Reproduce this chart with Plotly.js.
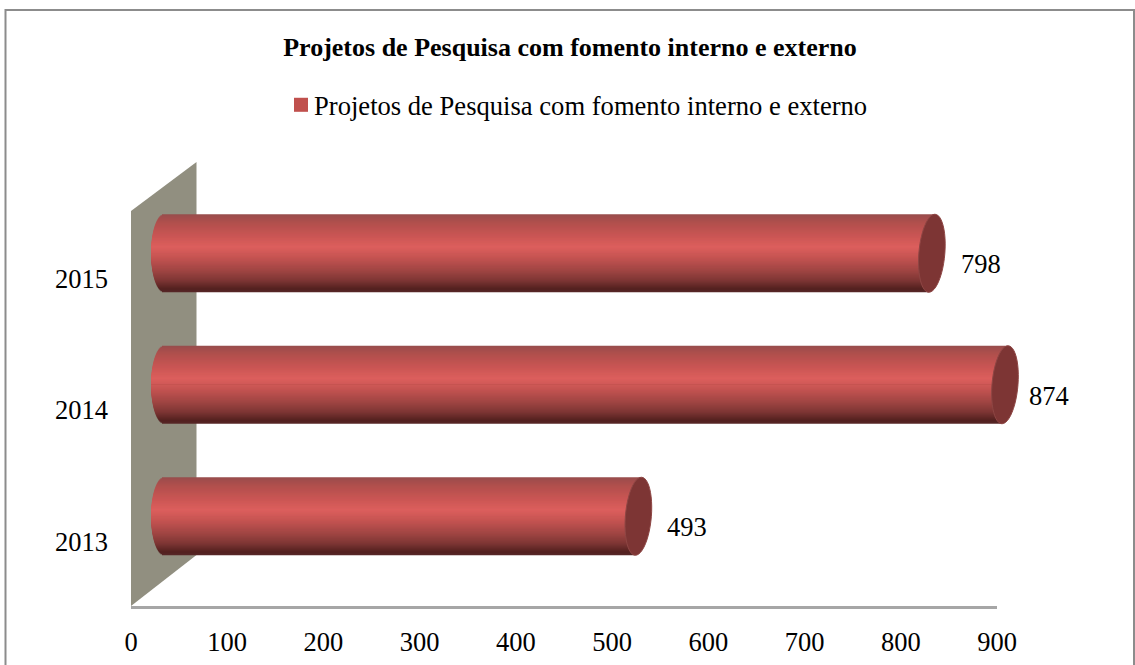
<!DOCTYPE html>
<html>
<head>
<meta charset="utf-8">
<script src="https://cdn.plot.ly/plotly-3.0.1.min.js"></script>
<style>html,body{margin:0;padding:0;background:#fff}#chart{width:1135px;height:665px}</style>
</head>
<body>
<div id="chart"></div>
<script>
const years = ["2013", "2014", "2015"];
const projetos = [493, 874, 798];
const serieNome = "Projetos de Pesquisa com fomento interno e externo";
const tickValues = [0, 100, 200, 300, 400, 500, 600, 700, 800, 900];

const W = 1135, H = 665;
const px = x => x / W;
const py = y => 1 - y / H;

// Plot geometry in pixels
const plotL = 131, plotR = 997, plotT = 211.5, plotB = 606;
const depthX = 33, depthY = 24;
const unit = (plotR - plotL) / 900;
const pos = years.map((_, i) => i);
const barW = 78 / 131.5;
const capRx = 13 / unit, capTilt = 3 / unit;

const stops = [
  [0.00, [150, 78, 76]], [0.05, [165, 78, 76]], [0.14, [182, 80, 78]],
  [0.30, [205, 87, 85]], [0.42, [220, 95, 93]], [0.55, [198, 84, 82]],
  [0.72, [160, 69, 67]], [0.85, [125, 54, 52]], [0.96, [82, 32, 31]], [1.00, [88, 40, 40]]
];
function shade(t) {
  for (let i = 1; i < stops.length; i++) {
    if (t <= stops[i][0]) {
      const [a, ca] = stops[i - 1], [b, cb] = stops[i];
      const f = (t - a) / (b - a);
      return "rgb(" + ca.map((c, k) => Math.round(c + (cb[k] - c) * f)).join(",") + ")";
    }
  }
  return "rgb(88,40,40)";
}

const traces = [];
// Legend-bearing base cylinder
traces.push({
  type: "bar", orientation: "h", name: serieNome, showlegend: true, opacity: 1,
  x: projetos, y: pos, xaxis: "x2", yaxis: "y2", width: barW * 0.9,
  marker: { color: "#c0504d", opacity: 1, line: { width: 0 } }, hoverinfo: "skip"
});
// Nested layers: each row of the shading is painted from its own edge to past the
// centre line, so the layers never leave gaps; this gives the gradient and round back.
const rows = 78;
function addRow(s, fromTop) {
  const mid = (s + 0.5) / rows;
  const v = 1 - 2 * mid;                // +1 at top, -1 at bottom
  const back = capRx * Math.sqrt(Math.max(0, 1 - v * v));
  const yEdge = 1 - 2 * s / rows;       // row's top edge in -1..1
  const yEnd = 1 - 2 * (s + 1) / rows;  // row's bottom edge
  const hi = fromTop ? yEdge : 0;
  const lo = fromTop ? -0.04 : yEnd;
  traces.push({
    type: "bar", orientation: "h", showlegend: false, opacity: 1,
    x: projetos.map(p => p + capTilt * v + back), y: pos,
    base: projetos.map(() => -back),
    xaxis: "x2", yaxis: "y2",
    width: (hi - lo) * barW / 2,
    offset: lo * barW / 2,
    marker: { color: shade(mid), opacity: 1, line: { width: 0 } }, hoverinfo: "skip"
  });
}
for (let s = 0; s < rows / 2; s++) addRow(s, true);
for (let s = rows - 1; s >= rows / 2; s--) addRow(s, false);
// Invisible trace so the primary axes carry the category labels
traces.push({
  type: "scatter", mode: "markers", x: projetos, y: years,
  marker: { opacity: 0, size: 1 }, showlegend: false, hoverinfo: "skip"
});

const shapes = [
  // Chart frame
  { type: "rect", xref: "paper", yref: "paper", x0: px(5.5), x1: px(1134), y0: py(700), y1: py(10),
    line: { color: "#8c8c8c", width: 2 }, fillcolor: "rgba(0,0,0,0)", layer: "below" },
  // 3D side wall
  { type: "path", xref: "paper", yref: "paper", layer: "below", fillcolor: "#918f80", line: { width: 0 },
    path: `M${px(131)},${py(211)} L${px(196.5)},${py(162)} L${px(196.5)},${py(555)} L${px(131)},${py(606)} Z` }
];
// End caps of the cylinders
projetos.forEach((p, i) => {
  const n = 48, h = barW / 2;
  let d = "";
  for (let k = 0; k <= n; k++) {
    const a = 2 * Math.PI * k / n, sv = Math.sin(a);
    d += (k ? " L" : "M") + (p + capRx * Math.cos(a) + capTilt * sv) + "," + (i + h * sv);
  }
  shapes.push({ type: "path", xref: "x2", yref: "y2", layer: "above", path: d + " Z",
    fillcolor: "#7d3534", line: { color: "#8e4644", width: 1 } });
});

const labelShift = [49, 44, 49];
const annotations = projetos.map((p, i) => ({
  xref: "x2", yref: "y2", x: p, y: i, text: String(p), showarrow: false,
  xshift: labelShift[i], yshift: -11, xanchor: "center", yanchor: "middle",
  font: { family: "Liberation Serif", size: 26.5, color: "#000" }
}));

const layout = {
  width: W, height: H,
  margin: { l: 0, r: 0, t: 0, b: 0, pad: 0 },
  paper_bgcolor: "#fff", plot_bgcolor: "rgba(0,0,0,0)",
  barmode: "overlay",
  font: { family: "Liberation Serif", size: 26, color: "#000" },
  title: { text: "<b>" + serieNome + "</b>", x: 570 / W, xanchor: "center", xref: "paper",
           y: py(47), yanchor: "middle", font: { family: "Liberation Serif", size: 26, color: "#000" } },
  legend: { x: px(274), xanchor: "left", y: py(105), yanchor: "middle", orientation: "h",
            bgcolor: "rgba(0,0,0,0)", font: { family: "Liberation Serif", size: 26.6, color: "#000" } },
  xaxis: { domain: [px(plotL), px(plotR)], range: [0, 900], tickmode: "array", tickvals: tickValues,
           ticktext: tickValues.map(String), showgrid: false, zeroline: false, showline: true,
           linecolor: "#a6a6a6", linewidth: 3, ticks: "", ticklabelstandoff: 10, anchor: "y",
           tickfont: { family: "Liberation Serif", size: 26.5, color: "#000" }, automargin: false },
  yaxis: { domain: [py(plotB), py(plotT)], type: "category", categoryorder: "array", categoryarray: years,
           range: [-0.5, 2.5], showgrid: false, zeroline: false, showline: false, ticks: "", ticklabelstandoff: 22,
           ticklabelshift: 1, anchor: "x",
           tickfont: { family: "Liberation Serif", size: 26.5, color: "#000" }, automargin: false },
  xaxis2: { domain: [px(plotL), px(plotR + depthX)], range: [-depthX / unit, 900], anchor: "y2",
            visible: false, fixedrange: true },
  yaxis2: { domain: [py(plotB - depthY), py(plotT - depthY)], range: [-0.5, 2.5], anchor: "x2",
            visible: false, fixedrange: true },
  shapes, annotations, hovermode: false
};

Plotly.newPlot("chart", traces, layout, { displayModeBar: false, staticPlot: true }).then(() => {
  // Legend key sits closer to its label and is a little larger in the original
  const sym = document.querySelector(".legend .legendsymbols");
  if (sym) sym.setAttribute("transform", "translate(7,0)");
  const key = document.querySelector(".legend .legendpoints path");
  if (key) key.setAttribute("transform", (key.getAttribute("transform") || "") + " scale(1.17)");
});
</script>
</body>
</html>
